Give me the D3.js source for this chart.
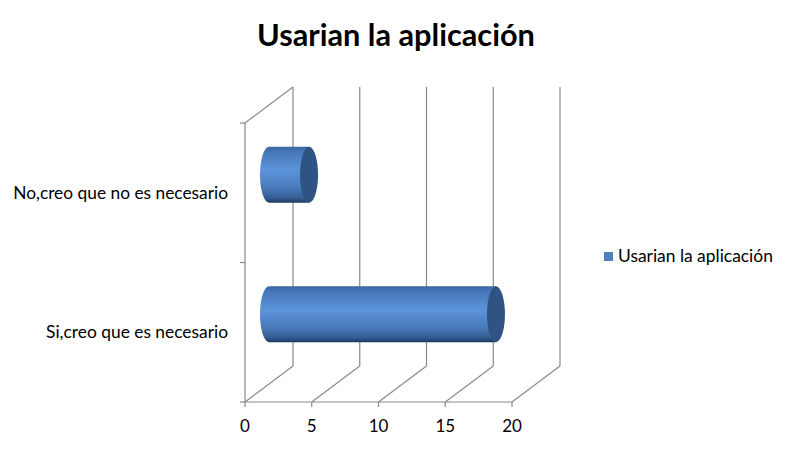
<!DOCTYPE html>
<html>
<head>
<meta charset="utf-8">
<script src="https://cdn.jsdelivr.net/npm/d3@7"></script>
<style>
  html, body { margin: 0; padding: 0; background: #fff; }
  svg { display: block; font-family: Lato, "Liberation Sans", sans-serif; }
</style>
</head>
<body>
<svg id="chart" width="791" height="458"></svg>
<script>
// ---- data ----
const title = "Usarian la aplicación";
const seriesName = "Usarian la aplicación";
const categories = ["Si,creo que es necesario", "No,creo que no es necesario"];
const values = [17, 3];
const xTicks = [0, 5, 10, 15, 20];

// ---- layout ----
const W = 791, H = 458;
const front = { left: 245, right: 512, top: 123, bottom: 402 };
const depth = { dx: 48, dy: -36 };
const gridColor = "#8a8a8a";

const svg = d3.select("#chart");

const x = d3.scaleLinear().domain([0, 20]).range([front.left, front.right]);
const y = d3.scaleBand().domain(categories).range([front.bottom, front.top]).paddingInner(0.6).paddingOuter(0.3);

// fit text to a target width
function fit(sel, target) {
  const len = sel.node().getComputedTextLength();
  const fs = parseFloat(sel.attr("font-size"));
  sel.attr("font-size", fs * target / len);
}

// ---- back wall & floor ----
const g = svg.append("g");
// back wall left edge & gridlines
xTicks.forEach(t => {
  const bx = x(t) + depth.dx;
  g.append("line").attr("x1", bx).attr("x2", bx)
    .attr("y1", front.top + depth.dy).attr("y2", front.bottom + depth.dy)
    .attr("stroke", gridColor).attr("stroke-width", 1.2);
  // floor diagonals
  g.append("line").attr("x1", x(t)).attr("y1", front.bottom)
    .attr("x2", bx).attr("y2", front.bottom + depth.dy)
    .attr("stroke", gridColor).attr("stroke-width", 1.2);
});
// side wall top diagonal
g.append("line").attr("x1", x(0)).attr("y1", front.top)
  .attr("x2", x(0) + depth.dx).attr("y2", front.top + depth.dy)
  .attr("stroke", gridColor).attr("stroke-width", 1.2);
// front vertical axis
g.append("line").attr("x1", x(0)).attr("x2", x(0))
  .attr("y1", front.top).attr("y2", front.bottom)
  .attr("stroke", gridColor).attr("stroke-width", 1.2);
// front horizontal axis
g.append("line").attr("x1", x(0)).attr("x2", x(20))
  .attr("y1", front.bottom).attr("y2", front.bottom)
  .attr("stroke", gridColor).attr("stroke-width", 1.2);
// left ticks (category boundaries)
[front.top, (front.top + front.bottom) / 2, front.bottom].forEach(ty => {
  g.append("line").attr("x1", x(0) - 5).attr("x2", x(0))
    .attr("y1", ty).attr("y2", ty).attr("stroke", gridColor).attr("stroke-width", 1.2);
});
// bottom ticks
xTicks.forEach(t => {
  g.append("line").attr("x1", x(t)).attr("x2", x(t))
    .attr("y1", front.bottom).attr("y2", front.bottom + 5)
    .attr("stroke", gridColor).attr("stroke-width", 1.2);
  g.append("text").attr("x", x(t)).attr("y", 432)
    .attr("text-anchor", "middle").attr("font-size", 17).attr("fill", "#000")
    .text(t);
});

// ---- gradients ----
const defs = svg.append("defs");
const grad = defs.append("linearGradient").attr("id", "cyl")
  .attr("x1", 0).attr("y1", 0).attr("x2", 0).attr("y2", 1);
[[0, "#3a65a0"], [0.08, "#4576b6"], [0.42, "#5c94da"], [0.75, "#4878b8"], [0.92, "#335c92"], [1, "#1e3a60"]]
  .forEach(([o, c]) => grad.append("stop").attr("offset", o).attr("stop-color", c));

// ---- bars (cylinders at mid depth) ----
const mid = { dx: depth.dx / 2, dy: depth.dy / 2 };
const rx = 9;
categories.forEach((c, i) => {
  const top = y(c) + mid.dy;
  const h = y.bandwidth();
  const ry = h / 2;
  const cy = top + ry;
  const x0 = x(0) + mid.dx;
  const x1 = x(values[i]) + mid.dx;
  const body = `M${x0},${top} L${x1},${top} L${x1},${top + h} L${x0},${top + h} A${rx},${ry} 0 0 1 ${x0},${top} Z`;
  svg.append("path").attr("d", body).attr("fill", "url(#cyl)");
  svg.append("ellipse").attr("cx", x1).attr("cy", cy).attr("rx", rx).attr("ry", ry)
    .attr("fill", "#2f5483");
  // category label
  const lab = svg.append("text").attr("x", 228).attr("y", y(c) + h / 2 + 6)
    .attr("text-anchor", "end").attr("font-size", 15).attr("fill", "#000").text(c);
});
// fit labels to reference widths
svg.selectAll("text").filter(function() { return d3.select(this).text() === categories[1]; })
  .each(function() { fit(d3.select(this), 215); });
svg.selectAll("text").filter(function() { return d3.select(this).text() === categories[0]; })
  .each(function() { fit(d3.select(this), 182); });

// ---- title ----
const tt = svg.append("text").attr("x", 396).attr("y", 46).attr("text-anchor", "middle")
  .attr("font-size", 30).attr("font-weight", "bold").attr("fill", "#000").text(title);
fit(tt, 278);

// ---- legend ----
svg.append("rect").attr("x", 604).attr("y", 252).attr("width", 9).attr("height", 9).attr("fill", "#4f81bd");
const lt = svg.append("text").attr("x", 618).attr("y", 262).attr("font-size", 15).attr("fill", "#000").text(seriesName);
fit(lt, 155);
</script>
</body>
</html>
